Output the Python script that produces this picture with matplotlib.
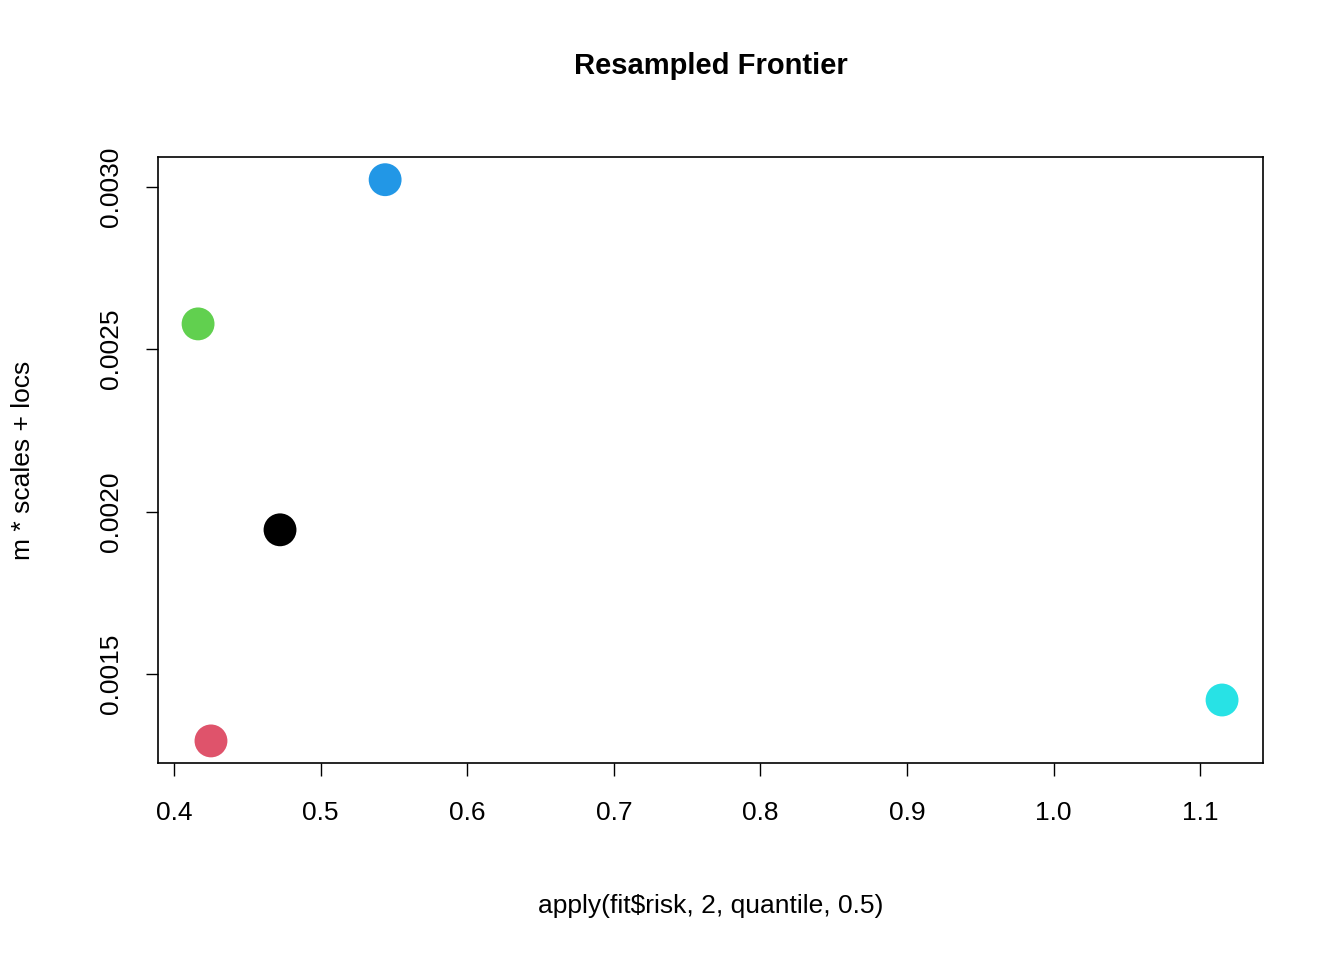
import matplotlib
matplotlib.use("Agg")
import matplotlib.pyplot as plt

plt.rcParams['font.family'] = ['Liberation Sans', 'DejaVu Sans']

risk = [0.4723, 0.4252, 0.4164, 0.5440, 1.1149]
ret = [0.001944, 0.001294, 0.002578, 0.003022, 0.001420]
colors = ['#000000', '#DF536B', '#61D04F', '#2297E6', '#28E2E5']

fig = plt.figure(figsize=(13.44, 9.6), dpi=100)
ax = fig.add_axes([0.1176, 0.2052, 0.8221, 0.6313])
ax.scatter(risk, ret, s=560, c=colors, edgecolors='none', zorder=3)
ax.set_xlim(0.3891, 1.1428)
ax.set_ylim(0.001226, 0.003092)

ax.set_xticks([0.4, 0.5, 0.6, 0.7, 0.8, 0.9, 1.0, 1.1])
ax.set_xticklabels(['0.4', '0.5', '0.6', '0.7', '0.8', '0.9', '1.0', '1.1'])
ax.set_yticks([0.0015, 0.0020, 0.0025, 0.0030])
ax.set_yticklabels(['0.0015', '0.0020', '0.0025', '0.0030'], rotation=90, va='center')
ax.tick_params(labelsize=19, length=9, width=1)
ax.tick_params(axis='x', pad=18)
ax.tick_params(axis='y', pad=16)
for s in ax.spines.values():
    s.set_linewidth(1.2)

ax.set_title('Resampled Frontier', fontsize=21, fontweight='bold', pad=60)
ax.set_xlabel('apply(fit$risk, 2, quantile, 0.5)', fontsize=19, labelpad=50)
ax.set_ylabel('m * scales + locs', fontsize=19, labelpad=46)

fig.savefig('out.png')
